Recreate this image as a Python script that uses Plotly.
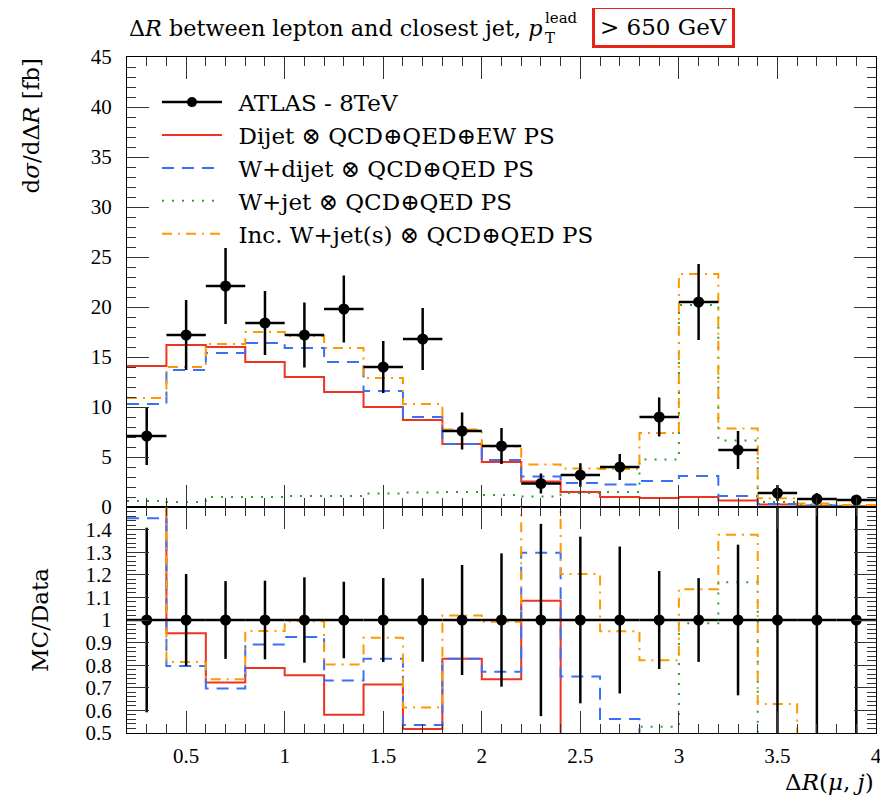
import plotly.graph_objects as go

# ---------------- data ----------------
bin_edges = [0.2, 0.4, 0.6, 0.8, 1.0, 1.2, 1.4, 1.6, 1.8, 2.0, 2.2, 2.4, 2.6, 2.8,
             3.0, 3.2, 3.4, 3.6, 3.8, 4.0]

data_vals = [7.1, 17.2, 22.1, 18.4, 17.2, 19.8, 14.0, 16.8, 7.6, 6.1, 2.35, 3.2, 4.0,
             9.0, 20.5, 5.7, 1.4, 0.8, 0.7]
data_errs = [2.9, 3.5, 3.8, 3.2, 3.25, 3.35, 2.6, 3.1, 1.85, 1.8, 1.0, 1.18, 1.3,
             1.95, 3.8, 1.9, 0.8, 0.6, 0.5]

dijet_vals = [14.1, 16.2, 16.0, 14.5, 13.0, 11.5, 10.0, 8.7, 6.3, 4.5, 2.55, 1.5, 1.0,
              0.9, 1.0, 0.65, 0.25, 0.12, 0.08]
wdijet_vals = [10.3, 13.7, 15.4, 16.4, 15.9, 14.5, 11.6, 9.0, 6.3, 4.7, 3.05, 2.4, 2.25,
               2.6, 3.1, 1.1, 0.3, 0.15, 0.1]
wjet_vals = [0.6, 0.5, 1.0, 1.0, 1.1, 1.1, 1.35, 1.45, 1.5, 1.2, 1.05, 1.4, 1.5,
             4.75, 20.2, 6.65, 0.5, 0.2, 0.12]
incw_vals = [10.9, 14.0, 16.3, 17.5, 17.1, 15.9, 12.9, 10.3, 7.75, 6.05, 4.25, 3.85, 3.8,
             7.4, 23.3, 7.85, 0.88, 0.35, 0.2]

main_tickvals = [0, 5, 10, 15, 20, 25, 30, 35, 40, 45]
ratio_tickvals = [0.5, 0.6, 0.7, 0.8, 0.9, 1.0, 1.1, 1.2, 1.3, 1.4]
ratio_ticktext = ["0.5", "0.6", "0.7", "0.8", "0.9", "1", "1.1", "1.2", "1.3", "1.4"]
x_tickvals = [0.5, 1.0, 1.5, 2.0, 2.5, 3.0, 3.5, 4.0]
x_ticktext = ["0.5", "1", "1.5", "2", "2.5", "3", "3.5", "4"]

series = [
    ("Dijet ⊗ QCD⊕QED⊕EW PS", dijet_vals, "#EE3322", "solid"),
    ("W+dijet ⊗ QCD⊕QED PS", wdijet_vals, "#3B6FF5", "12px,8px"),
    ("W+jet ⊗ QCD⊕QED PS", wjet_vals, "#2CA02C", "2px,8px"),
    ("Inc. W+jet(s) ⊗ QCD⊕QED PS", incw_vals, "#FF9900", "10px,6px,2px,6px"),
]

centers = [(a + b) / 2 for a, b in zip(bin_edges[:-1], bin_edges[1:])]
halfw = [(b - a) / 2 for a, b in zip(bin_edges[:-1], bin_edges[1:])]

FONT = "DejaVu Serif"
TICKFONT = "Liberation Serif"
SP = "\u2002"
fig = go.Figure()

# legend entry for data
fig.add_trace(go.Scatter(x=[None], y=[None], mode="lines+markers", name=SP + "ATLAS - 8TeV",
                         line=dict(color="black", width=2.5),
                         marker=dict(color="black", size=10), xaxis="x", yaxis="y"))

for name, vals, col, dash in series:
    fig.add_trace(go.Scatter(x=bin_edges, y=vals + [vals[-1]], mode="lines", line_shape="hv",
                             name=SP + name, line=dict(color=col, width=2, dash=dash),
                             xaxis="x", yaxis="y"))
    ratio = [v / d for v, d in zip(vals, data_vals)]
    fig.add_trace(go.Scatter(x=bin_edges, y=ratio + [ratio[-1]], mode="lines", line_shape="hv",
                             showlegend=False, line=dict(color=col, width=2, dash=dash),
                             xaxis="x2", yaxis="y2"))

# data in main panel
fig.add_trace(go.Scatter(x=centers, y=data_vals, mode="markers", showlegend=False,
                         marker=dict(color="black", size=11),
                         error_y=dict(type="data", array=data_errs, color="black",
                                      thickness=2.5, width=0),
                         error_x=dict(type="data", array=halfw, color="black",
                                      thickness=2.5, width=0),
                         xaxis="x", yaxis="y"))
# data in ratio panel
fig.add_trace(go.Scatter(x=centers, y=[1.0] * len(centers), mode="markers", showlegend=False,
                         marker=dict(color="black", size=11),
                         error_y=dict(type="data", array=[e / d for e, d in zip(data_errs, data_vals)],
                                      color="black", thickness=2.5, width=0),
                         error_x=dict(type="data", array=halfw, color="black",
                                      thickness=2.5, width=0),
                         xaxis="x2", yaxis="y2"))

# page has an 8px body margin: figure is 880x795 placed at (8, 8)
W, H = 880, 795
L, T, R, B = 119, 49, 12, 70
PW, PH = W - L - R, H - T - B
split = 226 / PH

axis_common = dict(showline=True, linecolor="black", linewidth=1.2, mirror="allticks",
                    ticks="inside", ticklen=22, tickwidth=1, tickcolor="#333333",
                    showgrid=False, zeroline=False, automargin=False,
                    tickfont=dict(family=TICKFONT, size=21, color="black"))
minor_common = dict(ticklen=9, ticks="inside", tickcolor="#333333")

fig.update_layout(
    width=W, height=H,
    margin=dict(l=L, r=R, t=T, b=B, autoexpand=False),
    paper_bgcolor="white", plot_bgcolor="white",
    font=dict(family=FONT, color="black"),
    xaxis=dict(domain=[0, 1], anchor="y", range=[0.2, 4.0], tickvals=x_tickvals,
               showticklabels=False, minor=dict(dtick=0.1, **minor_common), **axis_common),
    yaxis=dict(domain=[split, 1], anchor="x", range=[0, 45], tickvals=main_tickvals,
               ticklabelstandoff=10, minor=dict(dtick=1, **minor_common), **axis_common),
    xaxis2=dict(domain=[0, 1], anchor="y2", range=[0.2, 4.0], tickvals=x_tickvals,
                ticktext=x_ticktext, ticklabelstandoff=4,
                minor=dict(dtick=0.1, **minor_common), matches="x", **axis_common),
    yaxis2=dict(domain=[0, split], anchor="x2", range=[0.5, 1.5], tickvals=ratio_tickvals,
                ticktext=ratio_ticktext, ticklabelstandoff=10,
                minor=dict(dtick=0.02, **minor_common), **axis_common),
    legend=dict(x=0.04, y=0.965, xanchor="left", yanchor="top", bgcolor="rgba(0,0,0,0)",
                font=dict(family=FONT, size=23, color="black"), itemwidth=60,
                tracegroupgap=0),
    showlegend=True,
)


def px_x(p):  # page pixel -> paper x
    return (p - 8 - L) / PW


def px_y(p):  # page pixel -> paper y
    return 1 - (p - 8 - T) / PH


fig.add_annotation(text="Δ<i>R</i> between lepton and closest jet, <i>p</i>",
                   xref="paper", yref="paper", x=px_x(127), y=px_y(28),
                   xanchor="left", yanchor="middle", showarrow=False,
                   font=dict(family=FONT, size=22.3, color="black"))
fig.add_annotation(text="T", xref="paper", yref="paper", x=px_x(543), y=px_y(38),
                   xanchor="left", yanchor="middle", showarrow=False,
                   font=dict(family=FONT, size=15, color="black"))
fig.add_annotation(text="lead", xref="paper", yref="paper", x=px_x(543), y=px_y(18),
                   xanchor="left", yanchor="middle", showarrow=False,
                   font=dict(family=FONT, size=15, color="black"))
fig.add_annotation(text="> 650 GeV", xref="paper", yref="paper",
                   x=px_x(592), y=px_y(27),
                   xanchor="left", yanchor="middle", showarrow=False,
                   bordercolor="#E8231A", borderwidth=3, borderpad=5,
                   font=dict(family=FONT, size=23, color="black"))
fig.add_annotation(text="d<i>σ</i>/dΔ<i>R</i> [fb]", xref="paper", yref="paper",
                   x=px_x(30), y=1.0, xanchor="center", yanchor="top",
                   textangle=-90, showarrow=False,
                   font=dict(family=FONT, size=23, color="black"))
fig.add_annotation(text="MC/Data", xref="paper", yref="paper",
                   x=px_x(40), y=split / 2, xanchor="center", yanchor="middle",
                   textangle=-90, showarrow=False,
                   font=dict(family=FONT, size=23, color="black"))
fig.add_annotation(text="Δ<i>R</i>(<i>μ</i>, <i>j</i>)", xref="paper", yref="paper",
                   x=1.0, y=px_y(782), xanchor="right", yanchor="middle",
                   showarrow=False, font=dict(family=FONT, size=23, color="black"))

fig.write_html("out.html")
